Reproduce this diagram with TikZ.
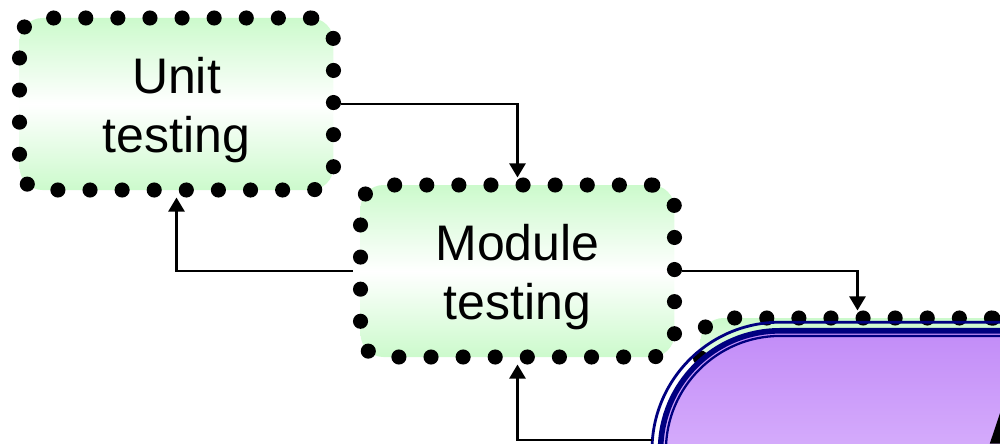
\documentclass[tikz,border=0pt]{standalone}
\usepackage{fontspec}
\setmainfont{Liberation Sans}
\usetikzlibrary{arrows.meta}
\definecolor{boxgreen}{RGB}{204,250,204}
\definecolor{lineblue}{RGB}{0,0,128}
\definecolor{lilactop}{RGB}{194,140,248}
\definecolor{lilacbot}{RGB}{236,210,255}
\tikzset{
  stagebox/.style={rectangle, rounded corners=13.1pt,
    minimum width=178.7pt, minimum height=97.9pt, inner sep=0pt,
    top color=boxgreen, bottom color=boxgreen, middle color=white,
    draw=black, line width=8.6pt, line cap=round,
    dash pattern=on 0pt off 18.27pt},
  stagetext/.style={align=center, inner sep=0pt,
    font=\fontsize{28.45}{33.6}\selectfont},
  flow/.style={draw=black, line width=1.3pt,
    -{Triangle[length=8pt,width=9.2pt]}},
  rim/.style={draw=lineblue},
}
\begin{document}
\begin{tikzpicture}[x=0.02cm, y=-0.02cm]
\path[use as bounding box] (0,0) rectangle (1000,443);
\clip (0,0) rectangle (1000,443);

% testing stages
\node[stagebox] (unit) at (176.5,104) {};
\node[stagetext] (unittext) at ([yshift=-3.4pt]unit.center) {Unit\\testing};
\node[stagebox] (module) at (517.5,271) {};
\node[stagetext] (moduletext) at ([yshift=-3.4pt]module.center) {Module\\testing};

\draw[flow] (unit.east) -| (module.north);
\draw[flow] (module.west) -| (unit.south);

\node[stagebox] (system) at (857.5,404) {};
\draw[flow] (module.east) -| (system.north);

% large lilac stage with a triple rim
\shade[top color=lilactop, bottom color=lilacbot, rounded corners=67.94pt]
  (660.6,330.8) rectangle (1291.4,591.4);
\draw[rim, line width=1.6pt, rounded corners=72.84pt]
  (652,322.2) rectangle (1300,600);
\draw[rim, line width=3.2pt, rounded corners=67.94pt]
  (660.6,330.8) rectangle (1291.4,591.4);
\draw[rim, line width=1.3pt, rounded corners=65.16pt]
  (665.9,335.9) rectangle (1286.1,586.1);

\coordinate (lilacedge) at (651.5,440);
\draw[flow] (lilacedge) -| (module.south);

% edge of the large heading letter
\fill[black] (1000.7,411) -- (989.8,443.5) -- (1000.7,443.5) -- cycle;
\end{tikzpicture}
\end{document}
